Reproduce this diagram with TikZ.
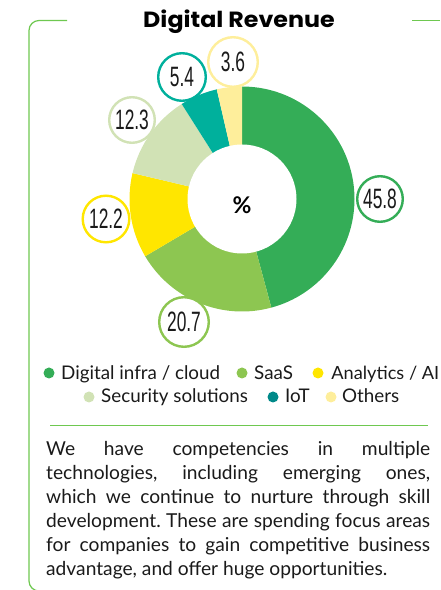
\documentclass[tikz,border=0pt]{standalone}
\usepackage{fontspec}
\setmainfont{Lato}
\newfontfamily\numfont{Liberation Sans}
\newfontfamily\titlefont{Poppins}
\definecolor{dig}{RGB}{52,173,87}
\definecolor{saas}{RGB}{141,198,81}
\definecolor{ana}{RGB}{255,230,0}
\definecolor{sec}{RGB}{209,226,181}
\definecolor{iot}{RGB}{0,176,156}
\definecolor{iotdot}{RGB}{0,137,137}
\definecolor{oth}{RGB}{254,238,155}
\definecolor{frame}{RGB}{110,200,80}
\definecolor{ink}{RGB}{26,26,26}
\newcommand\bnum[1]{\scalebox{0.62}[1]{\numfont\fontsize{28}{28}\selectfont #1}}
\frenchspacing
\begin{document}
\begin{tikzpicture}[x=1pt,y=1pt,
  bubble/.style={circle, draw=#1, line width=2.4pt, fill=white, inner sep=0pt, text=ink},
  legdot/.style={circle, fill=#1, minimum size=11pt, inner sep=0pt},
  legtxt/.style={anchor=base west, inner sep=0pt, text=ink, font=\fontsize{18.8}{18.8}\selectfont},
  rim/.style={draw=frame, line width=1.2pt}]
\useasboundingbox (0,0) rectangle (440,590);
% frame
\coordinate (ftop) at (67,569.5);
\coordinate (fbot) at (60,-1);
\draw[rim, rounded corners=10pt] (ftop) -- (29,569.5) -- (29,-1) -- (fbot);
\coordinate (rtA) at (412,569.5);
\coordinate (rtB) at (440,569.5);
\draw[rim] (rtA) -- (rtB);
% title
\node[anchor=base, inner sep=0pt, text=black, font=\titlefont\bfseries\fontsize{22}{22}\selectfont] (title) at (239,562) {\scalebox{1.08}[1]{Digital Revenue}};
% donut
\coordinate (C) at (242,391);
\def\R{112.5}
\fill[dig]  (C) -- ([shift={(90:\R)}]C) arc[start angle=90, end angle=-74.88, radius=\R] -- cycle;
\fill[saas] (C) -- ([shift={(-74.88:\R)}]C) arc[start angle=-74.88, end angle=-149.40, radius=\R] -- cycle;
\fill[ana]  (C) -- ([shift={(-149.40:\R)}]C) arc[start angle=-149.40, end angle=-193.32, radius=\R] -- cycle;
\fill[sec]  (C) -- ([shift={(-193.32:\R)}]C) arc[start angle=-193.32, end angle=-237.60, radius=\R] -- cycle;
\fill[iot]  (C) -- ([shift={(-237.60:\R)}]C) arc[start angle=-237.60, end angle=-257.04, radius=\R] -- cycle;
\fill[oth]  (C) -- ([shift={(-257.04:\R)}]C) arc[start angle=-257.04, end angle=-270, radius=\R] -- cycle;
\fill[white] (C) circle[radius=54.5];
\node[font=\bfseries\fontsize{23}{23}\selectfont, text=black] (pct) at (242,385) {\%};
% bubbles
\node[bubble=dig,  minimum size=45.6pt] (b1) at (380,391) {\bnum{45.8}};
\node[bubble=ana,  minimum size=46.6pt] (b3) at (106,371) {\bnum{12.2}};
\node[bubble=saas, minimum size=49.6pt] (b2) at (184,268) {\bnum{20.7}};
\node[bubble=sec,  minimum size=45.6pt] (b4) at (132,470) {\bnum{12.3}};
\node[bubble=iot,  minimum size=47.6pt] (b5) at (182,513) {\bnum{5.4}};
\node[bubble=oth,  minimum size=49.6pt] (b6) at (233,528) {\bnum{3.6}};
% legend
\node[legdot=dig]  (d1) at (49,217) {};
\node[legtxt] (l1) at (61,210.7) {Digital infra / cloud};
\node[legdot=saas] (d2) at (242,217) {};
\node[legtxt] (l2) at (254,210.7) {SaaS};
\node[legdot=ana]  (d3) at (318,217) {};
\node[legtxt, anchor=base east, font=\fontsize{18.2}{18.2}\selectfont] (l3) at (439.5,210.7) {Analytics / AI};
\node[legdot=sec]  (d4) at (89,193) {};
\node[legtxt] (l4) at (101,187) {Security solutions};
\node[legdot=iotdot] (d5) at (273,193) {};
\node[legtxt] (l5) at (285,187) {IoT};
\node[legdot=oth]  (d6) at (331,193) {};
\node[legtxt] (l6) at (342,187) {Others};
% separator
\coordinate (sepA) at (50,164);
\coordinate (sepB) at (428,164);
\draw[draw=frame, line width=1pt] (sepA) -- (sepB);
% paragraph
\node[anchor=north west, inner sep=0pt, align=left, text=ink, font=\fontsize{19.2}{24}\selectfont] (para) at (46,149) {%
\makebox[384pt][s]{We have competencies in multiple}\\
\makebox[384pt][s]{technologies, including emerging ones,}\\
\makebox[384pt][s]{which we continue to nurture through skill}\\
\makebox[384pt][s]{development. These are spending focus areas}\\
\makebox[384pt][s]{for companies to gain competitive business}\\
advantage, and offer huge opportunities.};
\end{tikzpicture}
\end{document}
